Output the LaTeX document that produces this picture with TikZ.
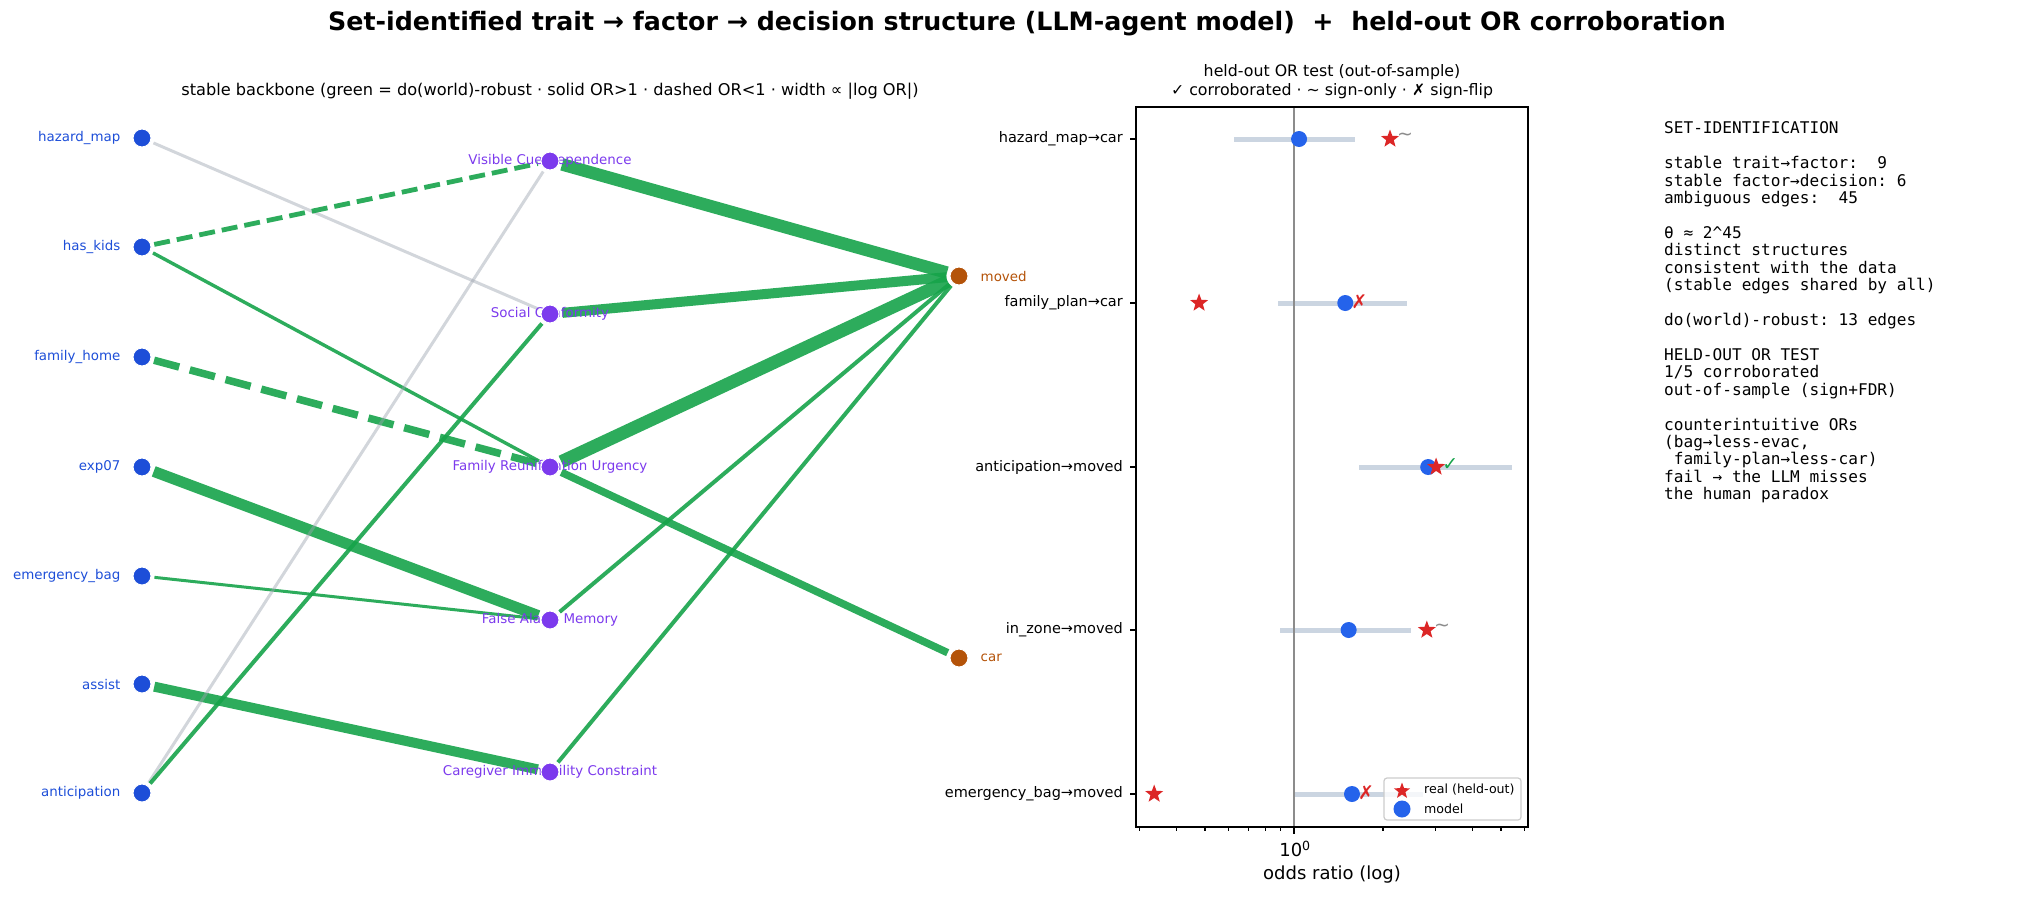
\documentclass[tikz,border=0pt]{standalone}
\usepackage{fontspec}
\setmainfont{DejaVu Sans}
\setmonofont{DejaVu Sans Mono}
\usetikzlibrary{arrows.meta,shapes.geometric,positioning}

\definecolor{traitc}{HTML}{1D4ED8}
\definecolor{factorc}{HTML}{7C3AED}
\definecolor{decisionc}{HTML}{B45309}
\definecolor{robustc}{HTML}{16A34A}
\definecolor{fragilec}{HTML}{9CA3AF}
\definecolor{cibarc}{HTML}{CBD5E1}
\definecolor{modelc}{HTML}{2563EB}
\definecolor{realc}{HTML}{DC2626}
\definecolor{refc}{HTML}{8C8C8C}

\pgfdeclarelayer{edges}
\pgfsetlayers{edges,main}

\newcommand{\pxfont}[1]{\fontsize{#1}{1.2\dimexpr#1pt\relax}\selectfont}
\newcommand{\orx}[1]{1294+128.55*ln(#1)}

\begin{document}
\begin{tikzpicture}[x=1pt,y=-1pt,
  dot/.style={circle,inner sep=0pt,minimum size=18pt,draw=white,line width=1pt},
  trait/.style={dot,fill=traitc},
  factor/.style={dot,fill=factorc},
  decision/.style={dot,fill=decisionc},
  tlab/.style={font=\pxfont{13.4},text=traitc,inner sep=0pt},
  flab/.style={font=\pxfont{13.4},text=factorc,inner sep=0pt},
  dlab/.style={font=\pxfont{13.4},text=decisionc,inner sep=0pt},
  label distance=12pt,
  robust/.style={draw=robustc,opacity=0.9,shorten <=3pt,shorten >=3pt},
  fragile/.style={draw=fragilec,opacity=0.45,line width=3pt,shorten <=3pt,shorten >=3pt},
  cibar/.style={draw=cibarc,line width=5pt},
  model/.style={circle,fill=modelc,inner sep=0pt,minimum size=16pt},
  real/.style={star,star points=5,star point ratio=2.4,fill=realc,inner sep=0pt,minimum size=19pt},
  rowlab/.style={font=\pxfont{14.5},anchor=east,inner sep=0pt},
  verdict/.style={font=\pxfont{19},anchor=west,inner sep=0pt},
  leglab/.style={font=\pxfont{12.6},anchor=west,inner sep=0pt},
  axlab/.style={font=\pxfont{18},inner sep=0pt},
  tick/.style={line width=1.3pt}]
\useasboundingbox (0,0) rectangle (2028,898);

\node[font=\bfseries\pxfont{25.3}] (title) at (1027,24)
  {Set-identified trait → factor → decision structure (LLM-agent model)\ \ +\ \ held-out OR corroboration};
\node[font=\pxfont{16.2}] (backbone) at (550,91)
  {stable backbone (green = do(world)-robust · solid OR>1 · dashed OR<1 · width ∝ |log OR|)};

\node[trait,label={[tlab]left:hazard\_map}] (hz) at (142,138) {};
\node[trait,label={[tlab]left:has\_kids}] (hk) at (142,247) {};
\node[trait,label={[tlab]left:family\_home}] (fh) at (142,357) {};
\node[trait,label={[tlab]left:exp07}] (ex) at (142,467) {};
\node[trait,label={[tlab]left:emergency\_bag}] (eb) at (142,576) {};
\node[trait,label={[tlab]left:assist}] (as) at (142,684) {};
\node[trait,label={[tlab]left:anticipation}] (an) at (142,793) {};

\node[flab] (vcdt) at (550,161) {Visible Cue Dependence};
\node[factor] (vcd) at (550,161) {};
\node[flab] (sct) at (550,314) {Social Conformity};
\node[factor] (sc) at (550,314) {};
\node[flab] (frut) at (550,467) {Family Reunification Urgency};
\node[factor] (fru) at (550,467) {};
\node[flab] (famt) at (550,620) {False Alarm Memory};
\node[factor] (fam) at (550,620) {};
\node[flab] (cict) at (550,772) {Caregiver Immobility Constraint};
\node[factor] (cic) at (550,772) {};

\node[decision,label={[dlab]right:moved}] (mv) at (959,276) {};
\node[decision,label={[dlab]right:car}] (car) at (959,658) {};

\begin{pgfonlayer}{edges}
\draw[fragile] (hz) -- (sc);
\draw[robust,line width=4.8pt,dash pattern=on 16pt off 7pt] (hk) -- (vcd);
\draw[robust,line width=3.4pt] (hk) -- (fru);
\draw[robust,line width=7.5pt,dash pattern=on 26pt off 11pt] (fh) -- (fru);
\draw[robust,line width=11pt] (ex) -- (fam);
\draw[robust,line width=3pt] (eb) -- (fam);
\draw[robust,line width=10pt] (as) -- (cic);
\draw[fragile] (an) -- (vcd);
\draw[robust,line width=4pt] (an) -- (sc);
\draw[robust,line width=12.5pt] (vcd) -- (mv);
\draw[robust,line width=10pt] (sc) -- (mv);
\draw[robust,line width=13pt] (fru) -- (mv);
\draw[robust,line width=4pt] (fam) -- (mv);
\draw[robust,line width=4pt] (cic) -- (mv);
\draw[robust,line width=7.5pt] (fru) -- (car);
\end{pgfonlayer}

\node[font=\pxfont{15.8},align=center] (heldout) at (1332,82)
  {held-out OR test (out-of-sample)\\✓ corroborated · \textasciitilde{} sign-only · ✗ sign-flip};

\node[rowlab] (r1) at (1123,139) {hazard\_map→car};
\node[rowlab] (r2) at (1123,303) {family\_plan→car};
\node[rowlab] (r3) at (1123,467) {anticipation→moved};
\node[rowlab] (r4) at (1123,630) {in\_zone→moved};
\node[rowlab] (r5) at (1123,794) {emergency\_bag→moved};
\draw[tick] (1136,139) -- (1130,139) (1136,303) -- (1130,303) (1136,467) -- (1130,467)
  (1136,630) -- (1130,630) (1136,794) -- (1130,794);

\draw[cibar] ({\orx{0.627}},139) -- ({\orx{1.607}},139);
\draw[cibar] ({\orx{0.883}},303) -- ({\orx{2.41}},303);
\draw[cibar] ({\orx{1.66}},467) -- ({\orx{5.45}},467);
\draw[cibar] ({\orx{0.90}},630) -- ({\orx{2.48}},630);
\draw[cibar] ({\orx{1.0}},794) -- ({\orx{2.73}},794);
\draw[refc,line width=1.6pt] (1294,107) -- (1294,827);

\node[model] (m1) at ({\orx{1.04}},139) {};
\node[real] (s1) at ({\orx{2.11}},139) {};
\node[verdict,text=refc] (v1) at ({\orx{2.11}+7},137) {\textasciitilde};
\node[real] (s2) at ({\orx{0.478}},303) {};
\node[model] (m2) at ({\orx{1.49}},303) {};
\node[verdict,text=realc] (v2) at ({\orx{1.49}+6},302) {✗};
\node[model] (m3) at ({\orx{2.84}},467) {};
\node[real] (s3) at ({\orx{3.02}},467) {};
\node[verdict,text=robustc] (v3) at ({\orx{3.02}+6},465) {✓};
\node[model] (m4) at ({\orx{1.53}},630) {};
\node[real] (s4) at ({\orx{2.81}},630) {};
\node[verdict,text=refc] (v4) at ({\orx{2.81}+7},628) {\textasciitilde};
\node[real] (s5) at ({\orx{0.337}},794) {};
\node[model] (m5) at ({\orx{1.57}},794) {};
\node[verdict,text=realc] (v5) at ({\orx{1.57}+6},793) {✗};

\draw[draw=black!20,fill=white,fill opacity=0.8,line width=1.2pt,rounded corners=3pt]
  (1384,778) rectangle (1521,820);
\node[real,minimum size=17pt] (lgs) at (1402,791) {};
\node[leglab] (lgst) at (1424,790) {real (held-out)};
\node[model,minimum size=17pt] (lgm) at (1402,809) {};
\node[leglab] (lgmt) at (1424,809) {model};

\draw[line width=1.4pt] (1136,107) rectangle (1528,827);
\draw[tick] (1294,827) -- (1294,834);
\draw[tick] ({\orx{0.3}},827) -- ++(0,4) ({\orx{0.4}},827) -- ++(0,4) ({\orx{0.5}},827) -- ++(0,4)
  ({\orx{0.6}},827) -- ++(0,4) ({\orx{0.7}},827) -- ++(0,4) ({\orx{0.8}},827) -- ++(0,4)
  ({\orx{0.9}},827) -- ++(0,4) ({\orx{2}},827) -- ++(0,4) ({\orx{3}},827) -- ++(0,4)
  ({\orx{4}},827) -- ++(0,4) ({\orx{5}},827) -- ++(0,4) ({\orx{6}},827) -- ++(0,4);
\node[axlab] (ten) at (1295,849) {10\textsuperscript{0}};
\node[axlab] (xlab) at (1332,875) {odds ratio (log)};

\node[font=\ttfamily\fontsize{16.1}{17.43}\selectfont,align=left,anchor=north west,inner sep=0pt] (setid) at (1664,121.6)
  {SET-IDENTIFICATION\\
   ~\\
   stable trait→factor:\ \ 9\\
   stable factor→decision: 6\\
   ambiguous edges:\ \ 45\\
   ~\\
   θ ≈ 2\textasciicircum45\\
   distinct structures\\
   consistent with the data\\
   (stable edges shared by all)\\
   ~\\
   do(world)-robust: 13 edges\\
   ~\\
   HELD-OUT OR TEST\\
   1/5 corroborated\\
   out-of-sample (sign+FDR)\\
   ~\\
   counterintuitive ORs\\
   (bag→less-evac,\\
   \ family-plan→less-car)\\
   fail → the LLM misses\\
   the human paradox};
\end{tikzpicture}
\end{document}
